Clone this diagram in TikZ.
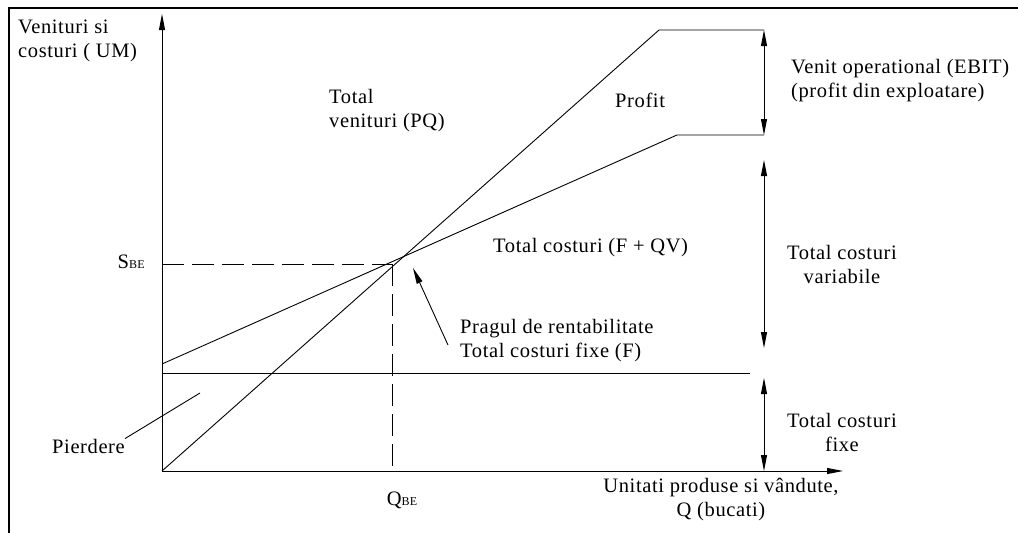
\documentclass[tikz,border=0pt]{standalone}
\usepackage{fontspec}
\setmainfont{Liberation Serif}[LetterSpace=3]
\usetikzlibrary{arrows.meta}
\newcommand{\subbe}{{\fontsize{12}{12}\selectfont BE}}

\begin{document}
\begin{tikzpicture}[
    x=1pt, y=-1pt,
    line/.style={line width=0.9pt},
    axis/.style={line width=0.9pt, -{Triangle[length=16pt,width=6pt]}},
    span/.style={line width=0.9pt,
        {Triangle[length=16pt,width=6pt]}-{Triangle[length=16pt,width=6pt]}},
    guide/.style={line width=0.9pt, dash pattern=on 22pt off 8pt},
    frame/.style={line width=2.2pt},
    lbl/.style={font=\fontsize{20.5}{24}\selectfont, inner sep=0pt}
]
    \useasboundingbox (0,0) rectangle (1018,533);

    % frame
    \coordinate (fbl) at (9,533);
    \coordinate (ftl) at (9,8);
    \coordinate (ftr) at (1018,8);
    \draw[frame] (fbl) -- (ftl) -- (ftr);

    % axes
    \coordinate (O) at (162,471);
    \coordinate (ytop) at (162,14);
    \coordinate (xend) at (843,471);
    \draw[axis] (O) -- (ytop);
    \draw[axis] (O) -- (xend);

    % fixed costs, total costs, revenues
    \coordinate (fc0) at (162,373);
    \coordinate (fc1) at (750,373);
    \coordinate (tc0) at (162,364);
    \coordinate (tc1) at (677,135);
    \coordinate (tc2) at (764,135);
    \coordinate (rv1) at (659,30);
    \coordinate (rv2) at (764,30);
    \draw[line] (fc0) -- (fc1);
    \draw[line] (tc0) -- (tc1) -- (tc2);
    \draw[line] (O) -- (rv1) -- (rv2);

    % break-even guides
    \coordinate (sbe) at (162,264);
    \coordinate (be) at (392,264);
    \coordinate (qbe) at (392,471);
    \draw[guide] (sbe) -- (be);
    \draw[guide] (be) -- (qbe);

    % spans on the right
    \coordinate (fcb) at (764,160);
    \coordinate (fct) at (764,348);
    \coordinate (fxb) at (764,378);
    \coordinate (fxt) at (764,471);
    \draw[span] (rv2) -- (tc2);
    \draw[span] (fcb) -- (fct);
    \draw[span] (fxb) -- (fxt);

    % labels (base = last line)
    \node[lbl, anchor=base west, align=left] (ylab) at (18,57) {Venituri si\\costuri ( UM)};
    \node[lbl, anchor=base west, align=left] (rev) at (329,127) {Total\\venituri (PQ)};
    \node[lbl, anchor=base west] (prof) at (615,107) {Profit};
    \node[lbl, anchor=base west, align=left] (ebit) at (791,97) {Venit operational (EBIT)\\(profit din exploatare)};
    \node[lbl, anchor=base west] (tcl) at (493,252) {Total costuri (F + QV)};
    \node[lbl, anchor=base, align=center] (tcv) at (842,283) {Total costuri\\variabile};
    \node[lbl, anchor=base west, align=left] (prag) at (460,357) {Pragul de rentabilitate\\Total costuri fixe (F)};
    \node[lbl, anchor=base, align=center] (tcf) at (842,451) {Total costuri\\fixe};
    \node[lbl, anchor=base east] (sl) at (145,268) {S\subbe};
    \node[lbl, anchor=base] (ql) at (402,505) {Q\subbe};
    \node[lbl, anchor=base west] (pier) at (52,453) {Pierdere};
    \node[lbl, anchor=base, align=center] (xlab) at (721,516) {Unitati produse si vândute,\\Q (bucati)};

    % pointers
    \coordinate (pa) at (448,345);
    \coordinate (pb) at (413,268);
    \draw[line, -{Triangle[length=16pt,width=6pt]}] (pa) -- (pb);
    \coordinate (pl) at (200,393);
    \draw[line] (pier.north east) -- (pl);
\end{tikzpicture}
\end{document}
